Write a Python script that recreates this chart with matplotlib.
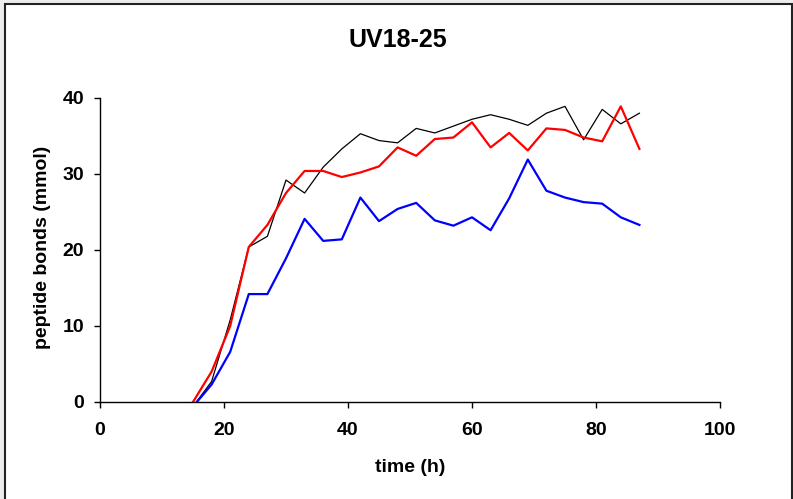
import matplotlib
matplotlib.use("Agg")
import matplotlib.pyplot as plt
from matplotlib.patches import Rectangle

# sampling times (h)
time_h = [15, 18, 21, 24, 27, 30, 33, 36, 39, 42, 45, 48, 51, 54, 57,
          60, 63, 66, 69, 72, 75, 78, 81, 84, 87]

# peptide bonds (mmol) for the three runs
black_run = [-0.6, 2.7, 10.8, 20.4, 21.8, 29.2, 27.5, 30.9, 33.3, 35.3, 34.4, 34.1, 36.0,
             35.4, 36.3, 37.2, 37.8, 37.2, 36.4, 38.0, 38.9, 34.5, 38.5, 36.6, 38.0]
red_run = [0.0, 4.0, 10.0, 20.4, 23.3, 27.5, 30.4, 30.4, 29.6, 30.2, 31.0, 33.5, 32.4,
           34.6, 34.8, 36.8, 33.5, 35.4, 33.1, 36.0, 35.8, 34.8, 34.3, 38.9, 33.3]
blue_run = [-0.6, 2.3, 6.6, 14.2, 14.2, 18.9, 24.1, 21.2, 21.4, 26.9, 23.8, 25.4, 26.2,
            23.9, 23.2, 24.3, 22.6, 26.8, 31.9, 27.8, 26.9, 26.3, 26.1, 24.3, 23.3]

x_ticks = [0, 20, 40, 60, 80, 100]
y_ticks = [0, 10, 20, 30, 40]

plt.rcParams["font.family"] = ["Liberation Sans", "DejaVu Sans"]
plt.rcParams["font.weight"] = "bold"

W, H = 793, 499
fig = plt.figure(figsize=(W / 100, H / 100), dpi=100)
fig.patch.set_facecolor("#ececec")

# white chart area with a dark frame (bottom edge runs off the image)
frame = Rectangle((4.5 / W, -0.05), (792 - 4.5) / W, 1.05 - 3.5 / H,
                  transform=fig.transFigure, facecolor="white",
                  edgecolor="#222222", linewidth=1.5, zorder=-10)
fig.patches.append(frame)

ax = fig.add_axes([100 / W, (H - 402) / H, 620 / W, 304 / H])
ax.set_facecolor("none")

ax.plot(time_h, black_run, color="black", linewidth=0.9)
ax.plot(time_h, red_run, color="#ff0000", linewidth=1.6)
ax.plot(time_h, blue_run, color="#0000ff", linewidth=1.6)

ax.set_xlim(0, 100)
ax.set_ylim(0, 40)
ax.set_xticks(x_ticks)
ax.set_yticks(y_ticks)
ax.spines["top"].set_visible(False)
ax.spines["right"].set_visible(False)
for s in ("left", "bottom"):
    ax.spines[s].set_linewidth(1.0)
ax.tick_params(axis="x", direction="out", length=4.5, width=1.0, pad=10, labelsize=14)
ax.tick_params(axis="y", direction="out", length=4.5, width=1.0, pad=7, labelsize=14)
for lab in ax.get_xticklabels() + ax.get_yticklabels():
    lab.set_fontweight("bold")

fig.text(398 / W, 1 - 40 / H, "UV18-25", ha="center", va="center",
         fontsize=18, fontweight="bold")
fig.text(410 / W, 1 - 467 / H, "time (h)", ha="center", va="center",
         fontsize=14, fontweight="bold")
fig.text(43 / W, 1 - 247 / H, "peptide bonds (mmol)", ha="center", va="center",
         rotation=90, fontsize=14, fontweight="bold")

fig.savefig("out.png", dpi=100)
